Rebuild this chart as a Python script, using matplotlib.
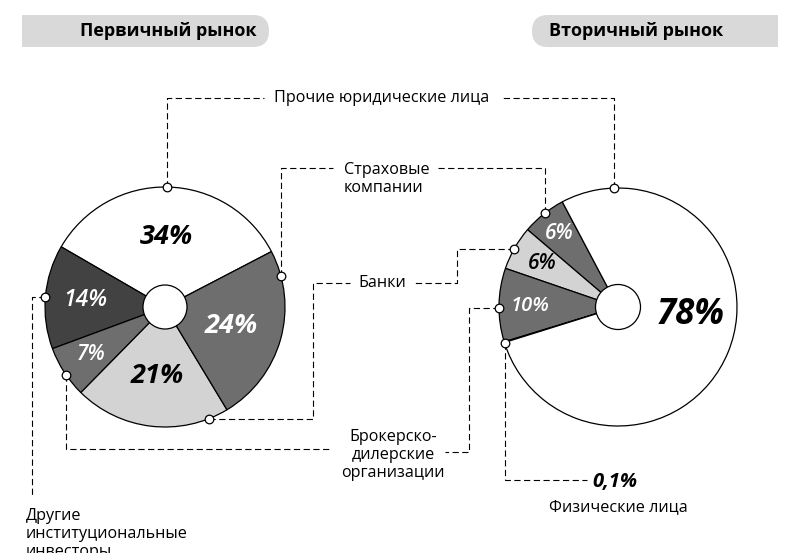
# %% Imports
import numpy as np
import matplotlib.pyplot as plt
from matplotlib.patches import Circle, Rectangle, FancyBboxPatch

plt.rcParams['font.family'] = ['Open Sans', 'DejaVu Sans']
plt.rcParams['lines.scale_dashes'] = False

# %% Data
categories = ["Прочие юридические лица", "Страховые компании", "Банки",
              "Брокерско-дилерские организации",
              "Другие институциональные инвесторы", "Физические лица"]
primary = [34, 24, 21, 7, 14, 0]
secondary = [78, 6, 6, 10, 0, 0.1]
primary_labels = ["34%", "24%", "21%", "7%", "14%", ""]
secondary_labels = ["78%", "6%", "6%", "10%", "", "0,1%"]
colors = ["white", "#6e6e6e", "#d3d3d3", "#6e6e6e", "#424242", "black"]
text_colors = ["black", "white", "black", "white", "white", "black"]

# %% Layout (pixels, y measured from top)
W, H = 795, 553


def Y(y):
    return H - y


fig = plt.figure(figsize=(W / 100, H / 100), dpi=100)
ax = fig.add_axes([0, 0, 1, 1])

left_c, left_r = (165, 307), 120
right_c, right_r = (618, 307), 119


def draw_pie(values, order, center, r, start, hole, lab, lab_pos):
    vals = [values[i] for i in order]
    wedges, _ = ax.pie(vals, colors=[colors[i] for i in order], startangle=start,
                       counterclock=True, radius=r, center=(center[0], Y(center[1])),
                       frame=True, normalize=True,
                       wedgeprops=dict(edgecolor='black', linewidth=0.9))
    for w in wedges:
        w.set_zorder(3)
    ax.add_patch(Circle((center[0], Y(center[1])), hole, fc='white', ec='black',
                        lw=0.9, zorder=5))
    for i, w in zip(order, wedges):
        if i not in lab_pos:
            continue
        rf, size, weight, ang = lab_pos[i]
        if ang is None:
            ang = (w.theta1 + w.theta2) / 2
        x = center[0] + rf * r * np.cos(np.radians(ang))
        y = Y(center[1]) + rf * r * np.sin(np.radians(ang))
        ax.text(x, y, lab[i], ha='center', va='center', fontsize=size,
                fontweight=weight, fontstyle='italic', color=text_colors[i], zorder=6)


draw_pie(primary, [0, 4, 3, 2, 1], left_c, left_r, 27.5, 22, primary_labels,
         {0: (0.58, 19.5, 'bold', None), 1: (0.57, 19.5, 'bold', None),
          2: (0.58, 19.5, 'bold', None), 3: (0.73, 15, 'semibold', None),
          4: (0.67, 16.5, 'semibold', None)})
draw_pie(secondary, [1, 2, 3, 5, 0], right_c, right_r, 117.9, 22.5, secondary_labels,
         {0: (0.61, 25, 'bold', -6), 1: (0.79, 15, 'semibold', None),
          2: (0.73, 15, 'semibold', None), 3: (0.74, 14.5, 'semibold', None)})


# %% Connectors
def route(center, r, angle, moves):
    x = center[0] + r * np.cos(np.radians(angle))
    y = center[1] - r * np.sin(np.radians(angle))
    xs, ys = [x], [y]
    for kind, v in moves:
        if kind == 'h':
            x = v
        else:
            y = v
        xs.append(x)
        ys.append(y)
    ax.plot(xs, [Y(v) for v in ys], color='black', lw=0.8, ls=(0, (4.5, 2.5)), zorder=2)
    ax.plot(xs[0], Y(ys[0]), 'o', ms=6.2, mfc='white', mec='black', mew=0.9, zorder=7)


route(left_c, left_r, 89, [('v', 98), ('h', 264)])
route(right_c, right_r, 92, [('v', 98), ('h', 502)])
route(left_c, left_r, 15, [('v', 168), ('h', 333)])
route(right_c, right_r, 128, [('v', 168), ('h', 438)])
route(left_c, left_r, 291.4, [('h', 313), ('v', 283), ('h', 350)])
route(right_c, right_r, 151, [('h', 457), ('v', 283), ('h', 413)])
route(left_c, left_r, 214.6, [('v', 449), ('h', 332)])
route(right_c, right_r, 180.5, [('h', 469), ('v', 452), ('h', 445)])
route(left_c, left_r, 175, [('h', 32), ('v', 497)])
route(right_c, right_r, 197.5, [('v', 480), ('h', 587)])

# %% Category texts
fs = 11.6
ax.text(382, Y(98), categories[0], ha='center', va='center', fontsize=fs)
ax.text(344, Y(179), "Страховые\nкомпании", ha='left', va='center', fontsize=fs)
ax.text(382, Y(283), categories[2], ha='center', va='center', fontsize=fs)
ax.text(393, Y(455), "Брокерско-\nдилерские\nорганизации", ha='center', va='center',
        fontsize=fs)
ax.text(26, Y(534), "Другие\nинституциональные\nинвесторы", ha='left', va='center',
        fontsize=fs)
ax.text(592, Y(482), secondary_labels[5], ha='left', va='center', fontsize=14.5,
        fontweight='bold', fontstyle='italic')
ax.text(618, Y(507), categories[5], ha='center', va='center', fontsize=fs)

# %% Headers
hc = '#d9d9d9'
ax.add_patch(FancyBboxPatch((22, Y(47)), 247, 32, boxstyle='round,pad=0,rounding_size=16',
                            fc=hc, ec='none'))
ax.add_patch(Rectangle((22, Y(47)), 100, 32, fc=hc, ec='none'))
ax.add_patch(FancyBboxPatch((532, Y(47)), 246, 32, boxstyle='round,pad=0,rounding_size=16',
                            fc=hc, ec='none'))
ax.add_patch(Rectangle((680, Y(47)), 98, 32, fc=hc, ec='none'))
ax.text(168, Y(31), "Первичный рынок", ha='center', va='center', fontsize=13,
        fontweight='bold')
ax.text(636, Y(31), "Вторичный рынок", ha='center', va='center', fontsize=13,
        fontweight='bold')

ax.set_xlim(0, W)
ax.set_ylim(0, H)
ax.set_aspect('equal')
ax.axis('off')

plt.savefig('out.png', dpi=100)
